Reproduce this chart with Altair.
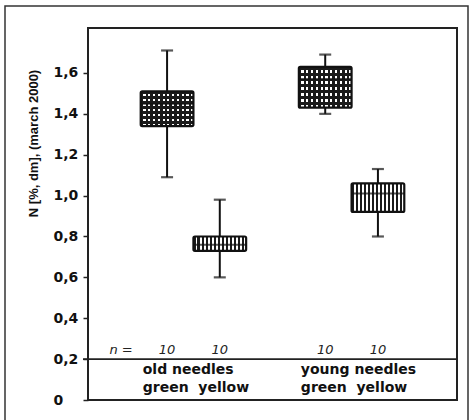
import altair as alt
import pandas as pd

# ---- data ----
cats = ["old_green", "old_yellow", "young_green", "young_yellow"]
kinds = ["green", "yellow", "green", "yellow"]
low = [1.09, 0.60, 1.40, 0.80]
q1 = [1.34, 0.73, 1.43, 0.92]
med = [1.45, 0.76, 1.57, 1.01]
q3 = [1.51, 0.80, 1.63, 1.06]
high = [1.71, 0.98, 1.69, 1.13]
n_obs = ["10", "10", "10", "10"]

slots = ["old_green", "old_yellow", "gap", "young_green", "young_yellow"]
group_anchor = ["old_green", "young_green"]
group_line1 = ["old needles", "young needles"]
group_line2 = ["green\u00a0\u00a0yellow", "green\u00a0\u00a0yellow"]
y_ticks = [0, 0.2, 0.4, 0.6, 0.8, 1.0, 1.2, 1.4, 1.6]

df = pd.DataFrame({"cat": cats, "kind": kinds, "low": low, "q1": q1,
                   "med": med, "q3": q3, "high": high, "n": n_obs})
gdf = pd.DataFrame({"cat": group_anchor, "l1": group_line1, "l2": group_line2})

W, H = 369, 372
step = W / 7.0
LABEL = "DejaVu Sans"


def stripes(count, frac, dark, light, vertical):
    stops = []
    for i in range(count):
        a = i / count
        b = (i + frac) / count
        c = min(1.0, (i + 1) / count)
        stops += [alt.GradientStop(offset=a, color=dark),
                  alt.GradientStop(offset=b, color=dark),
                  alt.GradientStop(offset=b, color=light),
                  alt.GradientStop(offset=c, color=light)]
    if vertical:
        return alt.LinearGradient(gradient="linear", stops=stops, x1=0, x2=1, y1=0, y2=0)
    return alt.LinearGradient(gradient="linear", stops=stops, x1=0, x2=0, y1=0, y2=1)


band = alt.Scale(type="band", domain=slots, paddingInner=0, paddingOuter=1)
x_enc = alt.X("cat:N", scale=band, axis=None)
y_scale = alt.Scale(domain=[0, 1.82], nice=False, zero=True)

y_axis = alt.Axis(
    values=y_ticks,
    labelExpr="datum.value == 0 ? '0' : replace(format(datum.value, '.1f'), '.', ',')",
    labelFont=LABEL, labelFontSize=14, labelFontWeight="bold", labelColor="#111",
    labelAlign="left", labelPadding=30, tickSize=5, tickWidth=1.5, tickColor="#222",
    domain=False, grid=False,
    title="N [%, dm], (march 2000)", titleFont="Liberation Sans", titleFontSize=13,
    titleFontWeight="bold", titleColor="#111", titleX=-55, titleY=115, titleAngle=270,
    titleAlign="center", titleBaseline="middle",
)

base = alt.Chart(df)
INK = "#111"

whisk_lo = base.mark_rule(color=INK, strokeWidth=2).encode(
    x=x_enc, y=alt.Y("low:Q", scale=y_scale, axis=y_axis), y2="q1:Q")
whisk_hi = base.mark_rule(color=INK, strokeWidth=2).encode(
    x=x_enc, y=alt.Y("q3:Q", scale=y_scale), y2="high:Q")
cap_lo = base.mark_tick(color=INK, size=12, thickness=2.2).encode(
    x=x_enc, y=alt.Y("low:Q", scale=y_scale))
cap_hi = base.mark_tick(color=INK, size=12, thickness=2.2).encode(
    x=x_enc, y=alt.Y("high:Q", scale=y_scale))

green_a = base.transform_filter(alt.datum.kind == "green").mark_bar(
    fill=stripes(11, 0.55, "#1a1a1a", "#ffffff", True)).encode(
    x=x_enc, y=alt.Y("q1:Q", scale=y_scale), y2="q3:Q")
green_b = base.transform_filter(alt.datum.kind == "green").mark_bar(
    fill=stripes(7, 0.5, "#1a1a1a", "rgba(0,0,0,0)", False)).encode(
    x=x_enc, y=alt.Y("q1:Q", scale=y_scale), y2="q3:Q")
yellow = base.transform_filter(alt.datum.kind == "yellow").mark_bar(
    fill=stripes(13, 0.55, "#1a1a1a", "#ffffff", True)).encode(
    x=x_enc, y=alt.Y("q1:Q", scale=y_scale), y2="q3:Q")
outline = base.mark_bar(fillOpacity=0, stroke=INK, strokeWidth=2.2, cornerRadius=1.5).encode(
    x=x_enc, y=alt.Y("q1:Q", scale=y_scale), y2="q3:Q")
median = base.mark_tick(color=INK, size=step, thickness=2).encode(
    x=x_enc, y=alt.Y("med:Q", scale=y_scale))

sep = alt.Chart(pd.DataFrame({"v": [0.2]})).mark_rule(color="#222", strokeWidth=1.6).encode(
    y=alt.Y("v:Q", scale=y_scale), x=alt.value(-5), x2=alt.value(W))

n_text = base.mark_text(font=LABEL, fontSize=13, fontStyle="italic", color="#222").encode(
    x=x_enc, y=alt.value(322), text="n:N")
n_label = alt.Chart(pd.DataFrame({"t": ["n ="]})).mark_text(
    font=LABEL, fontSize=13, fontStyle="italic", color="#222").encode(
    x=alt.value(33), y=alt.value(322), text="t:N")

g1 = alt.Chart(gdf).mark_text(font=LABEL, fontSize=14, fontWeight="bold", color=INK,
                              align="left", dx=2).encode(
    x=alt.X("cat:N", bandPosition=0, scale=band, axis=None),
    y=alt.value(342), text="l1:N")
g2 = alt.Chart(gdf).mark_text(font=LABEL, fontSize=14, fontWeight="bold", color=INK,
                              align="left", dx=2).encode(
    x=alt.X("cat:N", bandPosition=0, scale=band, axis=None),
    y=alt.value(360), text="l2:N")

frame = alt.Chart(pd.DataFrame({"a": [0]})).mark_rect(
    fillOpacity=0, stroke="#333", strokeWidth=1.5).encode(
    x=alt.value(-83), x2=alt.value(380), y=alt.value(-22), y2=alt.value(400))

chart = alt.layer(
    frame, whisk_lo, whisk_hi, cap_lo, cap_hi, green_a, green_b, yellow, outline, median,
    sep, n_text, n_label, g1, g2
).properties(
    width=W, height=H,
    autosize=alt.AutoSizeParams(type="none"),
    padding={"left": 88, "top": 28, "right": 16, "bottom": 20},
    background="white",
).configure_view(stroke="#222", strokeWidth=2)

chart.save("out.html", embed_options={"renderer": "svg", "actions": False})
